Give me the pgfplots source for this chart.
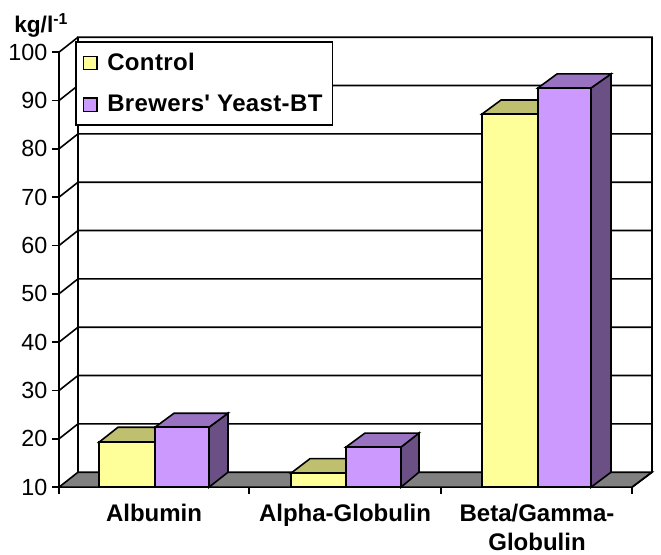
\documentclass[border=0pt]{standalone}
\usepackage{fontspec}
\setmainfont{Liberation Sans}
\newfontfamily\lgd[LetterSpace=1.5]{Liberation Sans}
\usepackage{pgfplots}
\pgfplotsset{compat=1.18}
\definecolor{ylw}{HTML}{FFFF99}
\definecolor{ylwtop}{HTML}{BFBF70}
\definecolor{pur}{HTML}{CC99FF}
\definecolor{purtop}{HTML}{9973C2}
\definecolor{purside}{HTML}{6B5085}
\definecolor{flr}{HTML}{808080}
\begin{document}
\begin{tikzpicture}[line join=miter]
\begin{axis}[
  scale only axis, width=429.75pt, height=326.25pt,
  xmin=59, xmax=632, ymin=10, ymax=100, clip=false,
  axis x line*=bottom, axis y line*=left,
  axis line style={black, line width=1.2pt},
  tick style={black, line width=1.2pt},
  tick align=outside,
  major tick length=5pt,
  ytick={10,20,30,40,50,60,70,80,90,100},
  xtick={59,249,441,632},
  xticklabels={},
  extra x ticks={154,345,537},
  extra x tick labels={Albumin,Alpha-Globulin,{Beta/Gamma-\\Globulin}},
  extra x tick style={tick style={draw=none}},
  /pgf/number format/assume math mode=true,
  y tick label style={font=\fontsize{17.5pt}{20pt}\selectfont, inner sep=0pt, xshift=-3.5pt},
  x tick label style={font=\fontsize{18pt}{22pt}\selectfont\bfseries, align=center, inner sep=0pt, yshift=-7.5pt},
  legend style={at={(axis cs:75,102.3)}, anchor=north west, draw=black, line width=1.2pt, fill=white,
    font=\fontsize{18pt}{21pt}\lgd\bfseries, inner xsep=5.5pt, inner ysep=6.5pt, row sep=13pt, /tikz/every even column/.append style={column sep=3pt}},
  legend cell align=left,
  legend image code/.code={\draw[#1, line width=1pt] (0pt,-5pt) rectangle (10pt,5pt); \path (15pt,0pt);},
  every axis plot/.append style={line width=1.2pt, draw=black, no markers},
]
% walls
\addplot[forget plot, fill=flr] coordinates {(59,10) (78,13.1) (652,13.1) (632,10)} -- cycle;
\addplot[forget plot] coordinates {(78,13.1) (78,103.1) (652,103.1) (652,13.1) (632,10)};
\addplot[forget plot] coordinates {(59,20) (78,23.1) (652,23.1)};
\addplot[forget plot] coordinates {(59,30) (78,33.1) (652,33.1)};
\addplot[forget plot] coordinates {(59,40) (78,43.1) (652,43.1)};
\addplot[forget plot] coordinates {(59,50) (78,53.1) (652,53.1)};
\addplot[forget plot] coordinates {(59,60) (78,63.1) (652,63.1)};
\addplot[forget plot] coordinates {(59,70) (78,73.1) (652,73.1)};
\addplot[forget plot] coordinates {(59,80) (78,83.1) (652,83.1)};
\addplot[forget plot] coordinates {(59,90) (78,93.1) (652,93.1)};
\addplot[forget plot] coordinates {(59,100) (78,103.1)};
% Albumin
\addplot[forget plot, fill=ylwtop] coordinates {(99,19.3) (118,22.4) (174,22.4) (155,19.3)} -- cycle;
\addplot[forget plot, fill=ylw] coordinates {(99,10) (99,19.3) (155,19.3) (155,10)} -- cycle;
\addplot[forget plot, fill=purside] coordinates {(209,10) (209,22.4) (228,25.3) (228,13.1)} -- cycle;
\addplot[forget plot, fill=purtop] coordinates {(155,22.4) (174,25.3) (228,25.3) (209,22.4)} -- cycle;
\addplot[forget plot, fill=pur] coordinates {(155,10) (155,22.4) (209,22.4) (209,10)} -- cycle;
% Alpha
\addplot[forget plot, fill=ylwtop] coordinates {(291,12.9) (310,15.9) (365,15.9) (346,12.9)} -- cycle;
\addplot[forget plot, fill=ylw] coordinates {(291,10) (291,12.9) (346,12.9) (346,10)} -- cycle;
\addplot[forget plot, fill=purside] coordinates {(401,10) (401,18.3) (419,21.2) (419,13.1)} -- cycle;
\addplot[forget plot, fill=purtop] coordinates {(346,18.3) (365,21.2) (419,21.2) (401,18.3)} -- cycle;
\addplot[forget plot, fill=pur] coordinates {(346,10) (346,18.3) (401,18.3) (401,10)} -- cycle;
% Beta/Gamma
\addplot[forget plot, fill=ylwtop] coordinates {(482,87.2) (501,90.1) (557,90.1) (538,87.2)} -- cycle;
\addplot[forget plot, fill=ylw] coordinates {(482,10) (482,87.2) (538,87.2) (538,10)} -- cycle;
\addplot[forget plot, fill=purside] coordinates {(591,10) (591,92.6) (611,95.5) (611,13.1)} -- cycle;
\addplot[forget plot, fill=purtop] coordinates {(538,92.6) (557,95.5) (611,95.5) (591,92.6)} -- cycle;
\addplot[forget plot, fill=pur] coordinates {(538,10) (538,92.6) (591,92.6) (591,10)} -- cycle;
\addlegendimage{fill=ylw, draw=black}
\addlegendentry{Control}
\addlegendimage{fill=pur, draw=black}
\addlegendentry{Brewers' Yeast-BT}
\node[anchor=base west, inner sep=0pt, font=\fontsize{17pt}{19pt}\selectfont\bfseries] at (axis cs:14,104.1) {kg/l\textsuperscript{-1}};
\path (axis cs:0,-3.86) -- (axis cs:661,110.8);
\end{axis}
\end{tikzpicture}
\end{document}
